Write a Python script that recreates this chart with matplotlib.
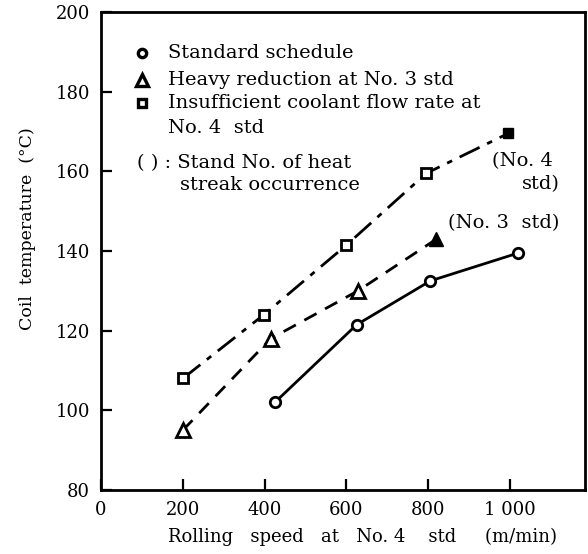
import matplotlib
matplotlib.use("Agg")
import matplotlib.pyplot as plt

plt.rcParams['font.family'] = ['DejaVu Serif']

# standard schedule
std_x = [425, 625, 805, 1020]
std_y = [102, 121.5, 132.5, 139.5]
# heavy reduction at No.3 std
heavy_x = [200, 415, 628]
heavy_y = [95, 118, 130]
heavy_end = (820, 143)
# insufficient coolant flow at No.4 std
cool_x = [200, 398, 600, 795]
cool_y = [108, 124, 141.5, 159.5]
cool_end = (995, 169.5)

xticks = [0, 200, 400, 600, 800, 1000]
xtick_labels = ['0', '200', '400', '600', '800', '1 000']
yticks = [80, 100, 120, 140, 160, 180, 200]

fig = plt.figure(figsize=(5.88, 5.54), dpi=100)
ax = fig.add_axes([101 / 588, 64 / 554, 484 / 588, 478 / 554])

lw = 2.0
ax.plot(std_x, std_y, '-', color='black', lw=lw, marker='o', ms=7.5,
        mfc='white', mec='black', mew=2.0)
ax.plot(heavy_x + [heavy_end[0]], heavy_y + [heavy_end[1]], color='black', lw=lw,
        dashes=(5, 3.5))
ax.plot(heavy_x, heavy_y, ls='none', marker='^', ms=9.5, mfc='white', mec='black', mew=2.0)
ax.plot(*heavy_end, marker='^', ms=9.5, color='black')
ax.plot(cool_x + [cool_end[0]], cool_y + [cool_end[1]], color='black', lw=lw,
        dashes=(8, 3, 2, 3))
ax.plot(cool_x, cool_y, ls='none', marker='s', ms=7.5, mfc='white', mec='black', mew=2.0)
ax.plot(*cool_end, marker='s', ms=7.5, color='black')

ax.set_xlim(0, 1183)
ax.set_ylim(80, 200)
ax.set_xticks(xticks)
ax.set_xticklabels(xtick_labels)
ax.set_yticks(yticks)
ax.tick_params(direction='in', length=8, width=1.6, labelsize=13, top=False, right=False)
ax.tick_params(axis='y', pad=8)
ax.tick_params(axis='x', pad=8)
for s in ax.spines.values():
    s.set_linewidth(2.0)

fig.text(363 / 588, 1 - 537 / 554, 'Rolling   speed   at   No. 4    std     (m/min)',
         fontsize=13, ha='center', va='center')
fig.text(28 / 588, 1 - 229 / 554, 'Coil  temperature  (°C)', fontsize=12.5,
         rotation=90, ha='center', va='center')

# legend text drawn as in the figure
fs = 14
ax.plot(100, 189.6, 'o', ms=6, mfc='white', mec='black', mew=2.4)
ax.text(164, 189.6, 'Standard schedule', fontsize=fs, va='center')
ax.plot(100, 183, '^', ms=8, mfc='white', mec='black', mew=2.4)
ax.text(164, 183, 'Heavy reduction at No. 3 std', fontsize=fs, va='center')
ax.plot(100, 177.2, 's', ms=6, mfc='white', mec='black', mew=2.4)
ax.text(164, 177.2, 'Insufficient coolant flow rate at', fontsize=fs, va='center')
ax.text(164, 170.9, 'No. 4  std', fontsize=fs, va='center')
ax.text(88, 162, '( ) : Stand No. of heat', fontsize=fs, va='center')
ax.text(193, 156.5, 'streak occurrence', fontsize=fs, va='center')

ax.text(956, 162.6, '(No. 4', fontsize=fs, ha='left', va='center')
ax.text(1122, 156.8, 'std)', fontsize=fs, ha='right', va='center')
ax.text(848, 147, '(No. 3  std)', fontsize=fs, ha='left', va='center')

fig.savefig('out.png', dpi=100)
